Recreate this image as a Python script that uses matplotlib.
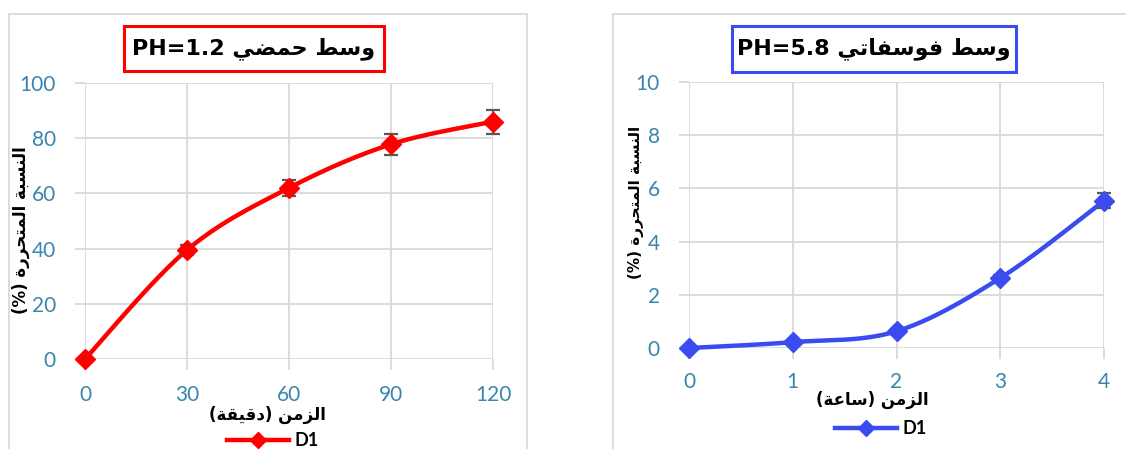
import numpy as np
import matplotlib
matplotlib.use("Agg")
import matplotlib.pyplot as plt
from matplotlib.patches import Rectangle
from matplotlib.lines import Line2D

# ---------------- data ----------------
acid_time = [0, 30, 60, 90, 120]
acid_release = [0.0, 39.5, 62.0, 77.8, 86.0]
acid_err = [0.0, 1.8, 3.0, 3.9, 4.3]
acid_xticks = [0, 30, 60, 90, 120]
acid_yticks = [0, 20, 40, 60, 80, 100]

phos_time = [0, 1, 2, 3, 4]
phos_release = [0.0, 0.22, 0.63, 2.63, 5.53]
phos_err = [0.0, 0.05, 0.08, 0.12, 0.28]
phos_xticks = [0, 1, 2, 3, 4]
phos_yticks = [0, 2, 4, 6, 8, 10]

acid_title = "وسط حمضي PH=1.2"
phos_title = "وسط فوسفاتي PH=5.8"
ylabel_text = "النسبة المتحررة (%)"
acid_xlabel = "الزمن (دقيقة)"
phos_xlabel = "الزمن (ساعة)"
series_name = "D1"

# ---------------- minimal Arabic shaping (presentation forms) ----------------
FORMS = {
    'ا': ('\uFE8D', '\uFE8E', None, None),
    'ب': ('\uFE8F', '\uFE90', '\uFE91', '\uFE92'),
    'ة': ('\uFE93', '\uFE94', None, None),
    'ت': ('\uFE95', '\uFE96', '\uFE97', '\uFE98'),
    'ح': ('\uFEA1', '\uFEA2', '\uFEA3', '\uFEA4'),
    'د': ('\uFEA9', '\uFEAA', None, None),
    'ر': ('\uFEAD', '\uFEAE', None, None),
    'ز': ('\uFEAF', '\uFEB0', None, None),
    'س': ('\uFEB1', '\uFEB2', '\uFEB3', '\uFEB4'),
    'ض': ('\uFEBD', '\uFEBE', '\uFEBF', '\uFEC0'),
    'ط': ('\uFEC1', '\uFEC2', '\uFEC3', '\uFEC4'),
    'ع': ('\uFEC9', '\uFECA', '\uFECB', '\uFECC'),
    'ف': ('\uFED1', '\uFED2', '\uFED3', '\uFED4'),
    'ق': ('\uFED5', '\uFED6', '\uFED7', '\uFED8'),
    'ل': ('\uFEDD', '\uFEDE', '\uFEDF', '\uFEE0'),
    'م': ('\uFEE1', '\uFEE2', '\uFEE3', '\uFEE4'),
    'ن': ('\uFEE5', '\uFEE6', '\uFEE7', '\uFEE8'),
    'و': ('\uFEED', '\uFEEE', None, None),
    'ي': ('\uFEF1', '\uFEF2', '\uFEF3', '\uFEF4'),
}


def shape(word):
    out = []
    n = len(word)
    for i, ch in enumerate(word):
        if ch not in FORMS:
            out.append(ch)
            continue
        prev = word[i - 1] if i > 0 else None
        nxt = word[i + 1] if i < n - 1 else None
        jp = prev in FORMS and FORMS[prev][2] is not None
        jn = nxt in FORMS and FORMS[ch][2] is not None
        iso, fin, ini, med = FORMS[ch]
        if jp and jn:
            out.append(med)
        elif jp:
            out.append(fin)
        elif jn:
            out.append(ini)
        else:
            out.append(iso)
    return ''.join(out)


MIRROR = {'(': ')', ')': '('}


def rtl(text):
    toks = text.split(' ')
    res = []
    for t in toks:
        if any(c in FORMS for c in t):
            s = shape(t)[::-1]
            s = ''.join(MIRROR.get(c, c) for c in s)
            res.append(s)
        else:
            res.append(t)
    return ' '.join(res[::-1])


def smooth(x, y, xr, yr, w, h, n=40):
    px = (np.asarray(x, float) - xr[0]) / (xr[1] - xr[0]) * w
    py = (np.asarray(y, float) - yr[0]) / (yr[1] - yr[0]) * h
    P = np.column_stack([px, py])
    m = len(P)
    pts = []
    for i in range(m - 1):
        p0 = P[i - 1] if i > 0 else P[i]
        p1 = P[i]
        p2 = P[i + 1]
        p3 = P[i + 2] if i + 2 < m else P[i + 1]
        c1 = p1 + (p2 - p0) / 6.0
        c2 = p2 - (p3 - p1) / 6.0
        t = np.linspace(0, 1, n)[:, None]
        seg = ((1 - t) ** 3) * p1 + 3 * ((1 - t) ** 2) * t * c1 + 3 * (1 - t) * t ** 2 * c2 + t ** 3 * p2
        pts.append(seg if i == 0 else seg[1:])
    pts = np.vstack(pts)
    xs = pts[:, 0] / w * (xr[1] - xr[0]) + xr[0]
    ys = pts[:, 1] / h * (yr[1] - yr[0]) + yr[0]
    return xs, ys


# ---------------- figure ----------------
W, H = 1126, 449
fig = plt.figure(figsize=(W / 100, H / 100), dpi=100)
fig.patch.set_facecolor('white')

GRID = '#d9d9d9'
TICKC = '#3a85ad'
TFONT = ['Lato', 'DejaVu Sans']
AFONT = ['DejaVu Sans']


def fx(px):
    return px / W


def fy(py):
    return 1 - py / H


# panel borders
fig.patches.append(Rectangle((fx(9), fy(470)), fx(527 - 9), (470 - 14) / H,
                             transform=fig.transFigure, fill=False, ec=GRID, lw=1.3))
fig.patches.append(Rectangle((fx(613), fy(470)), fx(1140 - 613), (470 - 14) / H,
                             transform=fig.transFigure, fill=False, ec=GRID, lw=1.3))


def make_panel(rect_px, x, y, err, xticks, yticks, color, xpad, curve_w, curve_h):
    left, right, top, bottom = rect_px
    ax = fig.add_axes([fx(left), fy(bottom), fx(right - left), (bottom - top) / H])
    ax.set_facecolor('none')
    xr = (xticks[0], xticks[-1])
    yr = (yticks[0], yticks[-1])
    ax.set_xlim(*xr)
    ax.set_ylim(*yr)
    for s in ax.spines.values():
        s.set_visible(False)
    ax.set_xticks(xticks)
    ax.set_yticks(yticks)
    ax.set_xticklabels([str(v) for v in xticks], fontfamily=TFONT)
    ax.set_yticklabels([str(v) for v in yticks], fontfamily=TFONT)
    ax.grid(True, color=GRID, lw=1.3, zorder=0)
    ax.set_axisbelow(True)
    ax.tick_params(axis='y', length=7, width=1.3, color=GRID, labelcolor=TICKC,
                   labelsize=15, pad=14)
    ax.tick_params(axis='x', length=8, width=1.3, color=GRID, labelcolor=TICKC,
                   labelsize=15, pad=xpad)
    xs, ys = smooth(x, y, xr, yr, curve_w, curve_h)
    ax.plot(xs, ys, color=color, lw=3.2, solid_capstyle='round', zorder=3, clip_on=False)
    ax.errorbar(x, y, yerr=err, fmt='none', ecolor='#595959', elinewidth=1.4,
                capsize=5, capthick=1.6, zorder=4, clip_on=False)
    ax.plot(x, y, 'D', color=color, ms=10, zorder=5, clip_on=False)
    return ax


ax1 = make_panel((85, 493, 83, 359), acid_time, acid_release, acid_err,
                 acid_xticks, acid_yticks, '#ff0000', 11, 408, 276)
ax2 = make_panel((689, 1104, 82, 348), phos_time, phos_release, phos_err,
                 phos_xticks, phos_yticks, '#3a4cf0', 9, 415, 266)

# title boxes
def title_box(x0, x1, y0, y1, text, ec):
    fig.patches.append(Rectangle((fx(x0), fy(y1)), fx(x1 - x0), (y1 - y0) / H,
                                 transform=fig.transFigure, fill=True, fc='white',
                                 ec=ec, lw=2.2, zorder=5))
    fig.text(fx((x0 + x1) / 2), fy((y0 + y1) / 2), rtl(text), ha='center', va='center',
             fontsize=16, fontweight='bold', family=AFONT, color='black', zorder=6)


title_box(124, 384, 26, 71, acid_title, '#ff0000')
title_box(732, 1016, 26, 72, phos_title, '#3a4cf0')

# y labels
fig.text(fx(21), fy(230), rtl(ylabel_text), rotation=90, ha='center', va='center',
         fontsize=12, fontweight='bold', family=AFONT, color='black')
fig.text(fx(636), fy(202), rtl(ylabel_text), rotation=90, ha='center', va='center',
         fontsize=11, fontweight='bold', family=AFONT, color='black')

# x labels
fig.text(fx(267), fy(415), rtl(acid_xlabel), ha='center', va='center',
         fontsize=12, fontweight='bold', family=AFONT, color='black')
fig.text(fx(872), fy(400), rtl(phos_xlabel), ha='center', va='center',
         fontsize=12, fontweight='bold', family=AFONT, color='black')

# legends
for (cx, cy, col) in [(273, 441, '#ff0000'), (881, 429, '#3a4cf0')]:
    h = Line2D([], [], color=col, lw=3.2, marker='D', ms=8)
    fig.legend([h], [series_name], loc='center', bbox_to_anchor=(fx(cx), fy(cy)),
               bbox_transform=fig.transFigure, frameon=False, handlelength=3.4,
               handletextpad=0.3, borderpad=0,
               prop={'family': TFONT, 'weight': 'bold', 'size': 13})

fig.savefig('out.png', dpi=100)
